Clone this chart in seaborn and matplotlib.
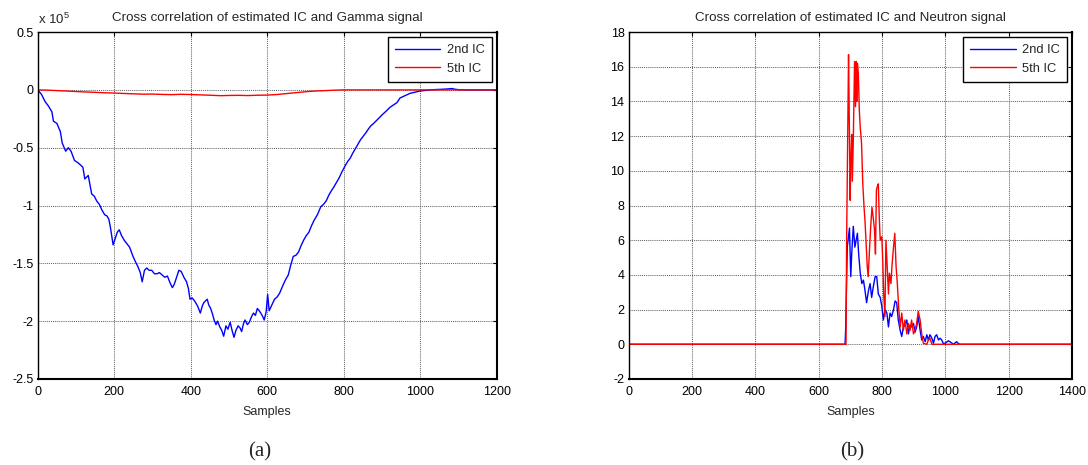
import numpy as np
import pandas as pd
import matplotlib
matplotlib.use("Agg")
import matplotlib.pyplot as plt
from matplotlib.ticker import FuncFormatter
import seaborn as sns

# ---------------- data ----------------
# (a) gamma signal: cross correlation values in units of 1e5
gamma_ic2_x = [0, 10, 19, 28, 37, 41, 50, 59, 64, 73, 80, 87, 96, 105, 112, 118, 123, 132, 141, 148,
               154, 161, 168, 175, 181, 186, 190, 197, 203, 208, 213, 219, 226, 233, 240, 249, 256, 262,
               268, 273, 279, 285, 291, 298, 305, 312, 318, 325, 332, 339, 346, 352, 357, 361, 365, 369,
               375, 382, 389, 394, 398, 404, 411, 418, 425, 430, 434, 443, 447, 452, 457, 461, 466, 470,
               476, 481, 486, 492, 497, 503, 508, 513, 518, 524, 529, 533, 538, 542, 548, 553, 559, 564,
               569, 574, 579, 583, 588, 592, 597, 601, 605, 612, 619, 626, 632, 637, 641, 648, 655, 661,
               668, 675, 682, 688, 695, 702, 709, 715, 722, 731, 740, 747, 754, 761, 768, 774, 781, 788,
               795, 803, 810, 817, 823, 830, 837, 844, 851, 858, 864, 871, 878, 884, 893, 902, 912, 921,
               930, 939, 947, 960, 973, 986, 999, 1012, 1025, 1040, 1055, 1070, 1083, 1090, 1100, 1120, 1200]
gamma_ic2_y = [0, -0.04, -0.10, -0.14, -0.19, -0.27, -0.29, -0.36, -0.46, -0.53, -0.50, -0.53, -0.61, -0.63,
               -0.65, -0.67, -0.77, -0.74, -0.90, -0.92, -0.96, -0.99, -1.04, -1.08, -1.09, -1.12, -1.19,
               -1.34, -1.28, -1.23, -1.21, -1.26, -1.30, -1.33, -1.36, -1.44, -1.49, -1.53, -1.58, -1.66,
               -1.56, -1.54, -1.56, -1.56, -1.59, -1.59, -1.58, -1.60, -1.62, -1.61, -1.67, -1.71, -1.68,
               -1.64, -1.60, -1.56, -1.57, -1.62, -1.66, -1.72, -1.81, -1.80, -1.83, -1.87, -1.93, -1.87,
               -1.84, -1.81, -1.86, -1.89, -1.94, -1.99, -2.03, -2.00, -2.05, -2.08, -2.13, -2.04, -2.07,
               -2.01, -2.08, -2.14, -2.08, -2.04, -2.06, -2.09, -2.02, -1.99, -2.03, -2.01, -1.96, -1.93,
               -1.95, -1.89, -1.91, -1.93, -1.96, -1.99, -1.92, -1.77, -1.91, -1.86, -1.81, -1.79, -1.76,
               -1.72, -1.69, -1.64, -1.60, -1.52, -1.44, -1.43, -1.40, -1.35, -1.30, -1.26, -1.23, -1.18,
               -1.13, -1.08, -1.01, -0.99, -0.96, -0.91, -0.87, -0.84, -0.80, -0.76, -0.71, -0.66, -0.62,
               -0.59, -0.55, -0.51, -0.47, -0.43, -0.40, -0.37, -0.34, -0.31, -0.29, -0.27, -0.24, -0.21,
               -0.18, -0.15, -0.13, -0.11, -0.07, -0.05, -0.03, -0.02, -0.01, -0.005, 0.0, 0.003, 0.005,
               0.008, 0.012, 0.006, 0.002, 0.0, 0.0]
gamma_ic5_x = [0, 25, 50, 75, 100, 125, 150, 175, 199, 225, 250, 276, 300, 325, 350, 375, 399, 425, 450,
               478, 500, 525, 550, 575, 600, 625, 650, 675, 700, 713, 740, 765, 795, 1200]
gamma_ic5_y = [0, -0.002, -0.006, -0.010, -0.014, -0.018, -0.021, -0.025, -0.027, -0.031, -0.034, -0.037,
               -0.036, -0.039, -0.041, -0.038, -0.040, -0.043, -0.046, -0.050, -0.048, -0.047, -0.049,
               -0.046, -0.045, -0.040, -0.032, -0.024, -0.016, -0.012, -0.008, -0.004, 0.0, 0.0]

# (b) neutron signal
neutron_ic2_x = [0, 683, 685, 690, 697, 701, 704, 709, 714, 718, 722, 726, 731, 736, 741, 746, 751,
                 757, 762, 767, 772, 778, 783, 788, 794, 799, 804, 809, 815, 820, 825, 830, 836, 841, 846,
                 851, 857, 862, 867, 872, 878, 883, 888, 893, 899, 904, 909, 914, 920, 925, 930, 936, 941,
                 946, 951, 957, 962, 967, 972, 978, 983, 988, 993, 998, 1009, 1014, 1025, 1035, 1040, 1046,
                 1400]
neutron_ic2_y = [0, 0, 0.9, 5.6, 6.7, 3.9, 5.2, 6.8, 5.6, 6.0, 6.4, 5.2, 4.1, 3.5, 3.7, 3.1, 2.4, 3.1,
                 3.5, 2.7, 3.3, 3.9, 3.9, 2.9, 2.7, 2.2, 1.4, 2.0, 1.8, 1.0, 1.8, 1.6, 2.0, 2.5, 2.4, 1.4,
                 0.8, 0.45, 1.0, 1.1, 1.4, 0.6, 1.1, 1.0, 1.2, 0.7, 1.0, 1.6, 0.8, 0.25, 0.45, 0.15, 0.55,
                 0.25, 0.55, 0.35, 0.06, 0.45, 0.55, 0.25, 0.35, 0.25, 0.05, 0.05, 0.2, 0.15, 0.0, 0.15,
                 0.05, 0.0, 0.0]
neutron_ic5_x = [0, 686, 688, 692, 694, 697, 699, 701, 704, 706, 709, 713, 716, 718, 720, 722, 725, 728,
                 731, 735, 739, 743, 746, 749, 753, 756, 760, 764, 768, 772, 776, 779, 782, 785, 788, 791,
                 794, 799, 802, 805, 809, 812, 816, 820, 823, 828, 831, 836, 840, 844, 848, 852, 857, 862,
                 867, 872, 878, 883, 888, 893, 899, 904, 909, 914, 920, 925, 930, 941, 946, 951, 957, 1400]
neutron_ic5_y = [0, 0, 6.0, 13.1, 16.7, 12.0, 8.3, 10.4, 12.1, 9.4, 11.7, 16.3, 13.7, 16.3, 14.0, 16.2,
                 15.6, 13.5, 12.5, 11.6, 9.25, 7.9, 7.1, 6.0, 4.5, 3.9, 5.4, 6.8, 7.9, 7.3, 6.6, 5.2, 8.9,
                 9.1, 9.25, 7.3, 6.0, 6.2, 4.8, 2.9, 1.6, 6.0, 4.5, 2.9, 4.1, 3.5, 4.5, 5.6, 6.4, 4.5, 3.5,
                 2.2, 1.0, 1.8, 0.8, 1.4, 0.6, 1.2, 0.8, 1.4, 0.6, 0.8, 1.2, 1.9, 1.4, 0.6, 0.06, 0.0,
                 0.25, 0.35, 0.0, 0.0]

series_labels = ["2nd IC", "5th IC"]
series_colors = ["#0000ff", "#ff0000"]
titles = ["Cross correlation of estimated IC and Gamma signal",
          "Cross correlation of estimated IC and Neutron signal"]
panel_tags = ["(a)", "(b)"]
gamma_xticks = [0, 200, 400, 600, 800, 1000, 1200]
gamma_yticks = [0.5, 0, -0.5, -1, -1.5, -2, -2.5]
neutron_xticks = [0, 200, 400, 600, 800, 1000, 1200, 1400]
neutron_yticks = [-2, 0, 2, 4, 6, 8, 10, 12, 14, 16, 18]
GAMMA_SCALE = 1e5

# ---------------- style ----------------
sns.set_theme(style="white")
plt.rcParams["font.family"] = ["Liberation Sans", "DejaVu Sans"]
plt.rcParams["mathtext.fontset"] = "custom"
plt.rcParams["mathtext.rm"] = "Liberation Sans"
plt.rcParams["mathtext.it"] = "Liberation Sans"
FS = 9


def frame(df_list):
    return pd.concat(df_list, ignore_index=True)


gamma_df = frame([
    pd.DataFrame({"Samples": gamma_ic2_x, "value": np.array(gamma_ic2_y) * GAMMA_SCALE, "IC": series_labels[0]}),
    pd.DataFrame({"Samples": gamma_ic5_x, "value": np.array(gamma_ic5_y) * GAMMA_SCALE, "IC": series_labels[1]}),
])
neutron_df = frame([
    pd.DataFrame({"Samples": neutron_ic2_x, "value": neutron_ic2_y, "IC": series_labels[0]}),
    pd.DataFrame({"Samples": neutron_ic5_x, "value": neutron_ic5_y, "IC": series_labels[1]}),
])

fig = plt.figure(figsize=(10.88, 4.65), dpi=100)
ax_a = fig.add_axes([0.0347, 0.185, 0.4219, 0.746])
ax_b = fig.add_axes([0.5778, 0.185, 0.4077, 0.746])

palette = dict(zip(series_labels, series_colors))

for ax, df in [(ax_a, gamma_df), (ax_b, neutron_df)]:
    sns.lineplot(data=df, x="Samples", y="value", hue="IC", palette=palette,
                 estimator=None, sort=False, linewidth=1.0, ax=ax, legend=False)

ax_a.set_xlim(0, 1200)
ax_a.set_ylim(-2.5 * GAMMA_SCALE, 0.5 * GAMMA_SCALE)
ax_a.set_xticks(gamma_xticks)
ax_a.set_yticks([v * GAMMA_SCALE for v in gamma_yticks])
ax_a.yaxis.set_major_formatter(FuncFormatter(lambda v, p: "%g" % (v / GAMMA_SCALE)))
ax_a.text(0.0, 1.022, r"x 10$^{5}$", transform=ax_a.transAxes, ha="left", va="baseline", fontsize=9.5)

ax_b.set_xlim(0, 1400)
ax_b.set_ylim(-2, 18)
ax_b.set_xticks(neutron_xticks)
ax_b.set_yticks(neutron_yticks)
ax_b.yaxis.set_major_formatter(FuncFormatter(lambda v, p: "%g" % v))

for ax, title in [(ax_a, titles[0]), (ax_b, titles[1])]:
    ax.set_title(title, fontsize=9.6, pad=8)
    ax.set_xlabel("Samples", fontsize=FS, labelpad=6)
    ax.set_ylabel("")
    ax.xaxis.set_major_formatter(FuncFormatter(lambda v, p: "%g" % v))
    ax.grid(True, color="#666666", linestyle=(0, (1, 1)), linewidth=0.75)
    ax.set_axisbelow(True)
    ax.tick_params(direction="in", top=True, right=True, length=3, width=0.8,
                   labelsize=FS, colors="black")
    ax.tick_params(axis="x", pad=5)
    ax.tick_params(axis="y", pad=3)
    for side, sp in ax.spines.items():
        sp.set_color("black")
        sp.set_linewidth(1.5 if side in ("bottom", "right") else 1.0)
    handles = [plt.Line2D([], [], color=c, lw=1.0) for c in series_colors]
    leg = ax.legend(handles, series_labels, loc="upper right", fontsize=9.3, frameon=True,
                    fancybox=False, borderaxespad=0.4, handlelength=3.5, handletextpad=0.5,
                    borderpad=0.55, labelspacing=0.5)
    leg.get_frame().set_edgecolor("black")
    leg.get_frame().set_linewidth(1.0)
    leg.get_frame().set_alpha(1)

fig.text(0.239, 0.028, panel_tags[0], ha="center", va="center", fontsize=15,
         family=["Liberation Serif", "DejaVu Serif"])
fig.text(0.783, 0.028, panel_tags[1], ha="center", va="center", fontsize=15,
         family=["Liberation Serif", "DejaVu Serif"])

fig.savefig("out.png", dpi=100, facecolor="white")
